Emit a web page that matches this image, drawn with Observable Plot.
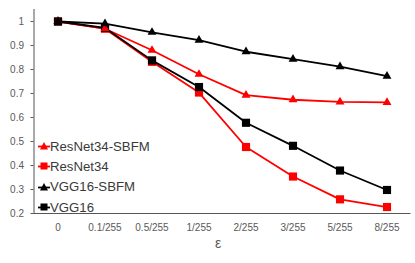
<!DOCTYPE html>
<html><head><meta charset="utf-8">
<script src="https://cdn.jsdelivr.net/npm/d3@7"></script>
<script src="https://cdn.jsdelivr.net/npm/@observablehq/plot@0.6"></script>
<style>
body{margin:0;background:#fff;}
#wrap{position:relative;width:415px;height:263px;font-family:"Liberation Sans",Arial,sans-serif;}
#legend{position:absolute;left:38px;top:136px;}
.item{display:flex;align-items:center;height:20.3px;font-size:13.2px;color:#3a3a3a;}
</style>
</head><body>
<div id="wrap"><div id="chart"></div><div id="legend"></div></div>
<script>
const categories = ["0","0.1/255","0.5/255","1/255","2/255","3/255","5/255","8/255"];
const seriesNames = ["ResNet34-SBFM","ResNet34","VGG16-SBFM","VGG16"];
const resnetSBFM = [1, 0.97, 0.88, 0.78, 0.693, 0.674, 0.665, 0.663];
const resnet = [1, 0.97, 0.832, 0.704, 0.477, 0.354, 0.259, 0.227];
const vggSBFM = [1, 0.991, 0.955, 0.922, 0.874, 0.843, 0.812, 0.772];
const vgg = [1, 0.973, 0.838, 0.727, 0.578, 0.482, 0.379, 0.298];
const yTicks = [0.2,0.3,0.4,0.5,0.6,0.7,0.8,0.9,1];
const xLabel = "ε";

const colors = {"ResNet34-SBFM":"#ff0000","ResNet34":"#ff0000","VGG16-SBFM":"#000000","VGG16":"#000000"};
const symbols = {"ResNet34-SBFM":"triangle","ResNet34":"square","VGG16-SBFM":"triangle","VGG16":"square"};
const valuesBySeries = [resnetSBFM, resnet, vggSBFM, vgg];
const data = [];
seriesNames.forEach((s,i)=>categories.forEach((c,j)=>data.push({series:s,eps:c,value:valuesBySeries[i][j]})));
const chart = Plot.plot({
  width:415, height:263,
  marginLeft:33.5, marginRight:5.5, marginTop:9, marginBottom:50,
  style:{fontFamily:"Liberation Sans, Arial, sans-serif", fontSize:"10px", color:"#595959", background:"#fff"},
  x:{type:"band", domain:categories, padding:0},
  y:{domain:[0.2,1.05]},
  color:{domain:seriesNames, range:seriesNames.map(s=>colors[s])},
  symbol:{domain:seriesNames, range:seriesNames.map(s=>symbols[s])},
  marks:[
    Plot.frame({anchor:"bottom", stroke:"#555"}),
    Plot.frame({anchor:"left", stroke:"#555"}),
    Plot.axisY({ticks:yTicks, tickSize:3, tickPadding:7, tickFormat:d=>String(+d.toFixed(1)), label:null, stroke:"#555", fill:"#595959"}),
    Plot.axisX({tickSize:0, tickPadding:10, label:null, fill:"#595959", fontSize:10}),
    Plot.text([xLabel],{text:d=>d, frameAnchor:"bottom", dy:34, dx:-4, fontSize:14, fill:"#595959"}),
    Plot.line(data,{x:"eps", y:"value", z:"series", stroke:"series", strokeWidth:1.8}),
    Plot.dot(data.filter(d=>symbols[d.series]==="square"),{x:"eps", y:"value", symbol:"series", fill:"series", r:4.6}),
    Plot.dot(data.filter(d=>symbols[d.series]==="triangle"),{x:"eps", y:"value", symbol:"series", fill:"series", r:3.3})
  ]
});
document.getElementById("chart").appendChild(chart);
const lg = document.getElementById("legend");
seriesNames.forEach(s=>{
  const it = document.createElement("div"); it.className="item";
  const shape = symbols[s]==="square"
    ? `<rect x="2.5" y="2.5" width="7" height="7" fill="${colors[s]}"/>`
    : `<path d="M6,2 L10,9.5 L2,9.5 Z" fill="${colors[s]}"/>`;
  it.innerHTML = `<svg width="12" height="12"><line x1="0" x2="12" y1="6.5" y2="6.5" stroke="${colors[s]}" stroke-width="1.8"/>${shape}</svg><span>${s}</span>`;
  lg.appendChild(it);
});
</script>
</body></html>
